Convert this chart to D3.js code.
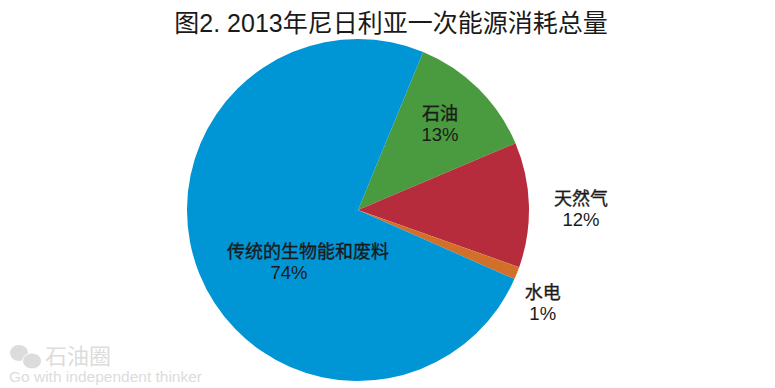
<!DOCTYPE html>
<html>
<head>
<meta charset="utf-8">
<script src="https://cdn.jsdelivr.net/npm/d3@7"></script>
<style>
  html, body { margin: 0; padding: 0; background: #fff; }
  svg { display: block; }
  text { font-family: "Liberation Sans", "Noto Sans CJK SC", sans-serif; }
</style>
</head>
<body>
<div class="chart"></div>
<script>
  // DATA
  var categories = ['石油', '天然气', '水电', '传统的生物能和废料']
  var values = [12.4, 11.8, 1.2, 74.6]
  var valueLabels = ['13%', '12%', '1%', '74%']
  var colors = ['#4a9a3f', '#b72c3c', '#d2702a', '#0096d6']
  var titleText = '图2. 2013年尼日利亚一次能源消耗总量'

  var width = 775
  var height = 388
  var center = { x: 358, y: 210 }
  var radius = 171
  var startAngle = 22.4 * Math.PI / 180

  // label anchor, distance from the center in radii and angle shift away from the slice middle
  var labelRadius = [0.695, 1.304, 1.21, 0.422]
  var labelShift = [-0.019, 0.026, 0.089, -0.422]
  // the percent line is not centered under the long biomass name
  var valueOffset = [0, 0, 0, -19]

  var chart = d3.select('.chart').append('svg')
    .attr('width', width)
    .attr('height', height)

  chart.append('rect')
    .attr('width', '100%')
    .attr('height', '100%')
    .attr('fill', 'white')

  chart.append('text')
    .attr('x', 391)
    .attr('y', 32)
    .attr('text-anchor', 'middle')
    .style('font-size', '25px')
    .style('fill', '#1a1a1a')
    .text(titleText)

  var pie = d3.pie()
    .sort(null)
    .startAngle(startAngle)
    .endAngle(startAngle + 2 * Math.PI)
  var arc = d3.arc().innerRadius(0).outerRadius(radius)

  var pieG = chart.append('g')
    .attr('transform', 'translate(' + center.x + ',' + center.y + ')')

  var slices = pie(values)

  pieG.selectAll('path')
    .data(slices)
    .enter().append('path')
    .attr('d', arc)
    .attr('fill', function (d, i) { return colors[i] })

  // labels
  var labels = pieG.selectAll('g.label')
    .data(slices)
    .enter().append('g')
    .attr('class', 'label')
    .attr('transform', function (d, i) {
      var a = (d.startAngle + d.endAngle) / 2 + labelShift[i]
      var r = radius * labelRadius[i]
      return 'translate(' + (Math.sin(a) * r) + ',' + (-Math.cos(a) * r) + ')'
    })

  labels.append('text')
    .attr('text-anchor', 'middle')
    .attr('y', -4)
    .style('font-size', '18px')
    .style('fill', '#1a1a1a')
    .style('stroke', '#1a1a1a')
    .style('stroke-width', '0.35')
    .text(function (d, i) { return categories[i] })

  labels.append('text')
    .attr('text-anchor', 'middle')
    .attr('x', function (d, i) { return valueOffset[i] })
    .attr('y', 17)
    .style('font-size', '18.5px')
    .style('fill', '#1a1a1a')
    .text(function (d, i) { return valueLabels[i] })

  // watermark
  var mark = chart.append('g').attr('fill', '#dcdcdc')
  mark.append('ellipse').attr('cx', 19).attr('cy', 353).attr('rx', 9).attr('ry', 8)
  mark.append('ellipse').attr('cx', 32).attr('cy', 361).attr('rx', 9.5).attr('ry', 8)
    .attr('stroke', 'white').attr('stroke-width', 1)
  chart.append('text')
    .attr('x', 45)
    .attr('y', 364)
    .style('font-size', '22px')
    .style('fill', '#dcdcdc')
    .text('石油圈')
  chart.append('text')
    .attr('x', 9)
    .attr('y', 382)
    .style('font-size', '15.5px')
    .style('fill', '#dcdcdc')
    .text('Go with independent thinker')
</script>
</body>
</html>
